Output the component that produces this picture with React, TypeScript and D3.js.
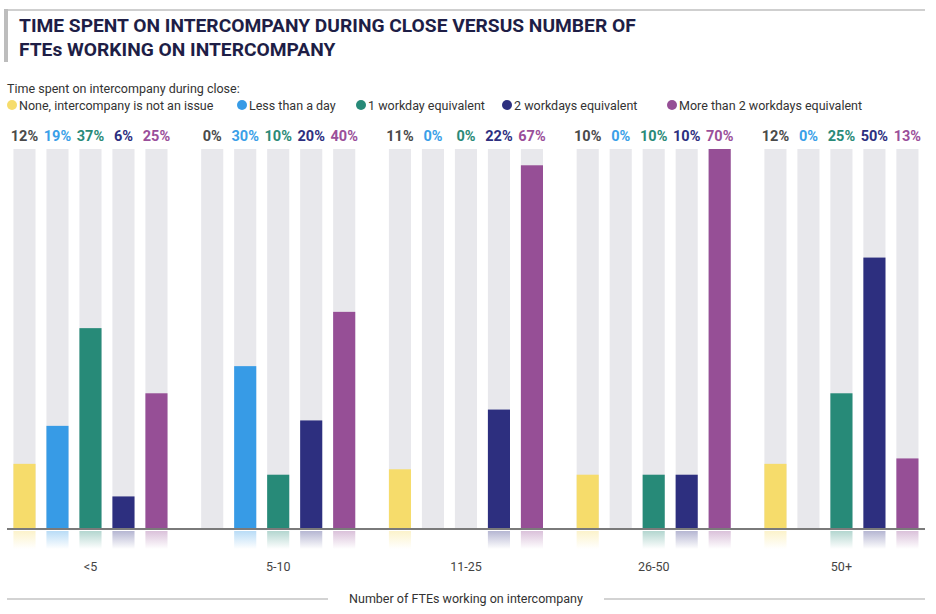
import * as d3 from 'd3'

const groups = ['<5', '5-10', '11-25', '26-50', '50+']
const seriesNames = [
  'None, intercompany is not an issue',
  'Less than a day',
  '1 workday equivalent',
  '2 workdays equivalent',
  'More than 2 workdays equivalent',
]
const noneIssue = [12, 0, 11, 10, 12]
const lessThanDay = [19, 30, 0, 0, 0]
const oneWorkday = [37, 10, 0, 10, 25]
const twoWorkdays = [6, 20, 22, 10, 50]
const moreThanTwo = [25, 40, 67, 70, 13]

const seriesValues = [noneIssue, lessThanDay, oneWorkday, twoWorkdays, moreThanTwo]
const barColors = ['#f6dc6b', '#379be6', '#278a78', '#2d2f7f', '#964f96']
const labelColors = ['#4a4a4a', '#3a9fe8', '#2a8a78', '#2d2f7f', '#9a4f9a']

const W = 936
const H = 614
const baseY = 529
const topY = 149
const font = 'Roboto, "Noto Sans", Arial, sans-serif'

export default function App() {
  const keys = d3.range(seriesNames.length).map(String)
  const x0 = d3.scaleBand<string>().domain(groups).range([-3.4, 935.3]).padding(0)
  const x1 = d3.scaleBand<string>().domain(keys).range([0, x0.bandwidth()])
    .paddingInner(0.33).paddingOuter(0.51)
  const yMax = d3.max(seriesValues.flat()) || 70
  const y = d3.scaleLinear().domain([0, yMax]).range([baseY, topY])

  // legend item x positions
  const legendX = [12, 242, 361, 507, 672]

  return (
    <div style={{ position: 'absolute', left: 0, top: 0, width: W, height: H, background: '#fff' }}>
      <svg width={W} height={H} style={{ display: 'block', fontFamily: font }}>
        <defs>
          {barColors.map((c, i) => (
            <linearGradient key={i} id={`refl${i}`} x1="0" y1="0" x2="0" y2="1">
              <stop offset="0%" stopColor={c} stopOpacity={0.35} />
              <stop offset="100%" stopColor={c} stopOpacity={0} />
            </linearGradient>
          ))}
        </defs>

        {/* title frame */}
        <line x1={5} x2={925} y1={10} y2={10} stroke="#cfcfcf" strokeWidth={2} />
        <rect x={4} y={9} width={4} height={53} fill="#bdbdbd" />
        <text x={19} y={32} fontSize={19.2} fontWeight={700} fill="#1e1e46">
          TIME SPENT ON INTERCOMPANY DURING CLOSE VERSUS NUMBER OF
        </text>
        <text x={19} y={56} fontSize={19.2} fontWeight={700} fill="#1e1e46">
          FTEs WORKING ON INTERCOMPANY
        </text>

        {/* legend */}
        <text x={7} y={93} fontSize={12.5} fill="#333">Time spent on intercompany during close:</text>
        {seriesNames.map((name, i) => (
          <g key={name} transform={`translate(${legendX[i]},105)`}>
            <circle r={5} fill={barColors[i]} />
            <text x={7} y={4.5} fontSize={12.5} fill="#333">{name}</text>
          </g>
        ))}

        {/* bars */}
        {groups.map((g, gi) => (
          <g key={g} transform={`translate(${x0(g)},0)`}>
            {keys.map((k, si) => {
              const v = seriesValues[si][gi]
              const bx = x1(k) as number
              const bw = x1.bandwidth()
              return (
                <g key={k}>
                  <rect x={bx} y={y(yMax)} width={bw} height={baseY - y(yMax)} fill="#e8e8ec" />
                  {v > 0 && (
                    <rect x={bx} y={y(v)} width={bw} height={baseY - y(v)} fill={barColors[si]} />
                  )}
                  {v > 0 && (
                    <rect x={bx} y={baseY + 2} width={bw} height={18} fill={`url(#refl${si})`} />
                  )}
                  <text x={bx + bw / 2} y={141} textAnchor="middle" fontSize={14.5}
                    fontWeight={700} fill={labelColors[si]}>
                    {`${v}%`}
                  </text>
                </g>
              )
            })}
            <text x={x0.bandwidth() / 2} y={571} textAnchor="middle" fontSize={12.5} fill="#444">{g}</text>
          </g>
        ))}

        {/* baseline */}
        <line x1={7} x2={925} y1={baseY} y2={baseY} stroke="#7a7a7a" strokeWidth={2} />

        {/* axis title */}
        <line x1={7} x2={328} y1={599} y2={599} stroke="#c4c4c4" strokeWidth={1.5} />
        <line x1={604} x2={925} y1={599} y2={599} stroke="#c4c4c4" strokeWidth={1.5} />
        <text x={466} y={603} textAnchor="middle" fontSize={12.5} fill="#333">
          Number of FTEs working on intercompany
        </text>
      </svg>
    </div>
  )
}
